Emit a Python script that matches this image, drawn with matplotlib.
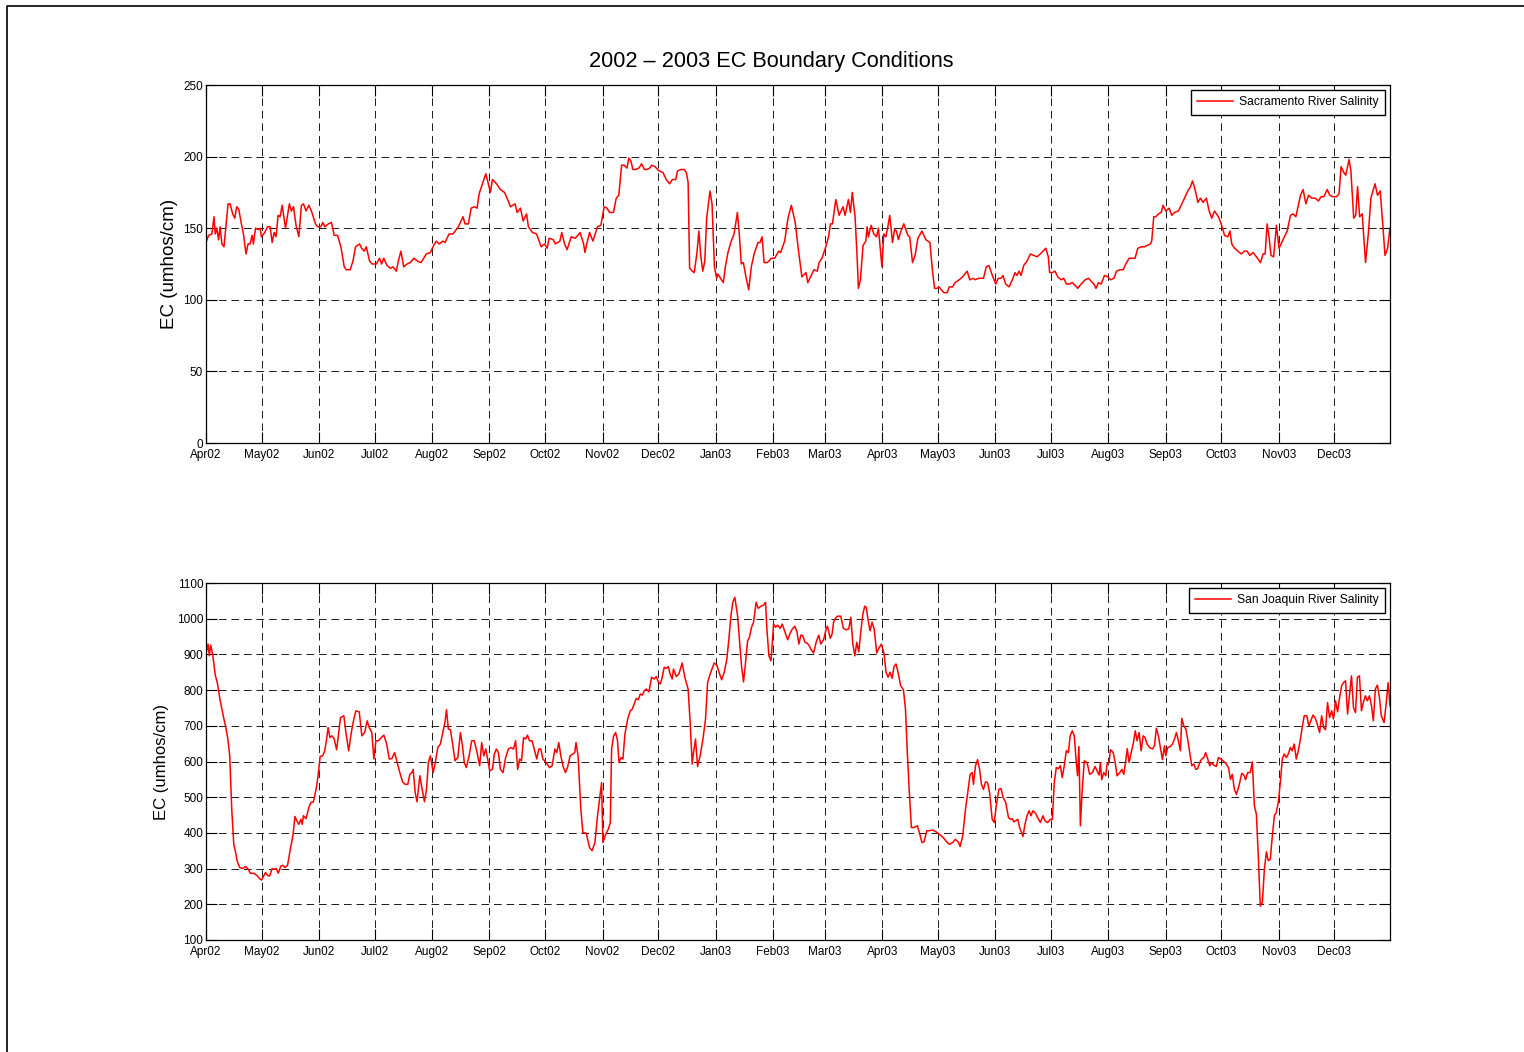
import pandas as pd
import matplotlib
matplotlib.use('Agg')
import matplotlib.pyplot as plt
import matplotlib.dates as mdates
from matplotlib.lines import Line2D

plt.rcParams['font.family'] = ['Liberation Sans', 'DejaVu Sans']
plt.rcParams['lines.scale_dashes'] = False

start = pd.Timestamp('2002-04-01')
end = pd.Timestamp('2003-12-31')

# Sacramento River EC, days after 1 Apr 2002
sac_day = [0, 1.4, 3.2, 4.3, 5, 5.8, 6.8, 7.6, 8.6, 9.7, 11.9, 13, 14.4, 15.5, 16.6, 17.7, 19.1, 20.2, 21.6, 22.7,
           23.8, 24.9, 25.6, 26.7, 28.1, 29.2, 29.9, 31.7, 33.2, 34.6, 35.7, 36.8, 37.8, 38.9, 40, 41.1, 42.9, 45,
           46.1, 47.2, 48.6, 50.1, 51.5, 52.6, 54, 55.5, 56.9, 59.1, 60.2, 62, 63, 64.1, 66, 67.7, 69.2, 71, 72.8,
           74.6, 75.7, 77.8, 79.3, 80.7, 82.9, 84, 85.4, 86.5, 88.3, 89.7, 91.9, 93.7, 94.8, 95.9, 97.7, 99.5, 100.9,
           102.7, 103.8, 105.2, 106.7, 108.5, 110.3, 112.1, 114.2, 116, 117.5, 118.9, 121.1, 122.9, 124.3, 125.8,
           127.9, 129, 131.2, 133.3, 136.2, 138.7, 139.8, 141.6, 143.1, 144.9, 146.3, 147.4, 149.2, 151, 152, 153.5,
           154.6, 156.8, 158.9, 161.1, 162.5, 164.3, 166.8, 167.9, 169.7, 171.2, 173, 174, 176.2, 178.4, 180.9,
           182.7, 184.1, 185.2, 187.4, 188.5, 191, 192, 193.5, 194.9, 197.1, 199.3,
           201.9, 203.8, 204.5, 205.5, 207, 208.8, 211.3, 213.1, 214.9, 216.4, 217.8, 219.9, 221.4, 222.8, 224.3,
           225.7, 227.2, 228.2, 229.3, 230.4, 231.9, 233.7, 235.1, 236.6, 238, 239.5, 240.5, 242.3, 244.5, 246.6,
           248.4, 250.2, 251.7, 253.5, 254.5, 256.3, 258.1, 259.2, 260.2, 261, 262.4, 263.5, 264.9, 266, 267,
           268.1, 269.2, 270.2, 272, 273.1, 274.4, 275.6, 276.3, 277.7, 279.2, 280.3, 281.7, 283.2, 285, 286.8,
           287.8, 288.9, 290, 291.4, 292.9, 294.3, 295.8, 297.9, 299, 300.1, 301.2, 303, 305.1, 306.9, 309.1,
           310.1, 312.3, 314.1, 315.9, 318, 319.8, 321.6, 323.8, 324.8, 327, 328.1, 329.9, 330.9, 332.4, 334.5,
           336, 337, 338.1, 339.9, 341.7, 343.8, 344.9, 346.7, 347.8, 348.8, 350.3, 351.4, 352.1, 353.2, 354.6,
           356.1, 356.8, 357.5, 359, 360.4, 361.9, 362.9, 364.8, 365.8, 366.9, 368, 369, 370.5, 371.6, 372.6,
           373.7, 374.8, 376.6, 378.8, 379.8, 381.3, 382.7, 384.2, 386.4, 388.5, 390.7, 392.1, 393.2, 394.6,
           395.7, 396.8, 398.2, 400, 401.1, 402.9, 404.3, 406.5, 408.3, 410.8, 412.2, 414, 415.1, 416.9,
           419.6, 421.1, 422.5, 424.4, 426.2, 427.6, 429.1, 430.1, 431.6, 433.4, 435.2, 436.6, 437.7, 438.8, 439.9,
           441.3, 443.1, 444.9, 446.7, 448.5, 450.3, 451.7, 453.2, 454.6, 455.3, 456.8, 458.2, 459.7, 461.5, 462.9,
           464.4, 465.8, 467.6, 469.1, 470.5, 472.3, 474.5, 476.3, 477.7, 479.2, 480.3, 481.7, 483.1, 484.9, 486.7,
           488.2, 490, 491.4, 493.2, 495, 496.4, 498.2, 500, 501.4, 502.9, 504.7, 506.5, 507.9, 509.7, 510.4, 511.5,
           512.6, 514, 515.5, 516.5, 518, 519.8, 521.2, 522.7, 524.8, 526.3, 528.1, 529.9, 531.3, 532.4, 533.8,
           535.3, 536.7, 538.1, 539.9, 541.4, 542.8, 544.3, 546.4, 547.9, 549.7, 551.5, 552.6, 553.6, 555.1, 556.9,
           558.7, 560.5, 561.9, 563.3, 565.1, 566.9, 569.1, 570.5, 571.6, 572.7, 573.7, 574.8, 576.2, 577.7, 579.1,
           580.6, 582, 583.5, 585.3, 586.7, 588.2, 589.2, 590.7, 592.1, 593.6, 595, 596.8, 598.6, 600.4, 601.8,
           603.3, 605.1, 606.5, 608.3, 610.1, 611.5, 612.6, 614, 615.1, 616.9, 617.9, 619.4, 620.5, 621.5, 622.6,
           624, 625.8, 627.3, 628.7, 630.9, 632.3, 633.7, 635.2, 636.3, 637.7, 639]
sac_ec = [140, 145, 146, 158, 146, 150, 142, 151, 139, 137, 167, 167, 160, 157, 165, 163, 153, 146, 132, 139,
          139, 145, 139, 150, 149, 150, 144, 147, 151, 151, 140, 147, 144, 159, 158, 166, 150, 167,
          162, 165, 152, 144, 166, 167, 162, 166, 162, 153, 151, 151, 154, 151, 153, 154, 145, 145, 137,
          123, 121, 121, 127, 137, 139, 136, 134, 137, 127, 125, 125, 129, 125, 129, 124, 122, 123,
          120, 127, 134, 123, 125, 126, 129, 127, 126, 129, 132, 133, 138, 141, 139,
          141, 140, 146, 146, 151, 158, 153, 153, 164, 165, 164, 174, 181, 188, 183, 175,
          184, 181, 177, 175, 171, 165, 167, 161, 164, 155, 160, 151, 147, 146, 137,
          139, 136, 143, 142, 139, 141, 147, 139, 135, 144, 143,
          147, 139, 133, 139, 147, 141, 151, 152, 165, 164, 161, 161, 171, 173, 194,
          194, 192, 199, 197, 191, 191, 192, 195, 191, 191, 192, 194, 193, 190, 189,
          184, 181, 184, 184, 190, 191, 191, 189, 182, 122, 120, 119, 132, 148, 131,
          120, 127, 157, 176, 167, 123, 115, 118, 115, 112, 123, 133, 140, 146, 161,
          146, 125, 126, 116, 107, 123, 132, 140, 140, 144, 126, 126, 129, 129, 134,
          133, 141, 157, 166, 154, 134, 116, 119, 112, 118, 121, 120, 126, 129, 137,
          144, 153, 153, 170, 159, 165, 159, 170, 161, 175, 158, 130, 108, 114, 138,
          141, 151, 144, 152, 146, 144, 150, 123, 146, 144, 151, 159, 140, 149, 148,
          142, 147, 153, 145, 144, 126, 131, 143, 148, 142, 140, 120, 108, 108,
          109, 107, 105, 105, 109, 109, 112, 114, 116, 120, 114, 115, 114, 115,
          115, 123, 124, 117, 111, 115, 115, 117, 111, 109, 114, 119, 117, 120, 117,
          124, 127, 132, 131, 130, 132, 134, 136, 130, 119, 119, 120, 116, 114, 115,
          111, 111, 112, 110, 108, 111, 114, 115, 113, 111, 108, 112, 111, 117, 116,
          114, 115, 120, 121, 121, 125, 129, 129, 129, 136, 137, 137, 138, 139, 141, 158,
          158, 160, 161, 166, 162, 164, 159, 161, 162, 166, 171, 176, 179, 183, 177,
          168, 171, 168, 171, 162, 157, 162, 158, 153, 145, 144, 148, 139, 136, 134,
          132, 134, 134, 131, 133, 130, 126, 132, 132, 153, 144, 131, 130, 152, 136,
          140, 144, 148, 159, 160, 158, 164, 173, 177, 167, 173, 171, 171, 169, 172,
          172, 177, 173, 172, 172, 174, 193, 189, 187, 198, 190, 157, 159, 179, 158,
          160, 126, 146, 171, 181, 173, 176, 151, 131, 136, 150]

# San Joaquin River EC, days after 1 Apr 2002
sjr_day = [0.4, 1.1, 1.8, 2.5, 3.2, 3.9, 5, 6.1, 7.5, 9.3, 10.7, 11.8, 12.8, 13.9, 15, 16, 16.8, 18.2, 19.6, 21.4,
           22.8, 23.9, 25.7, 27.5, 28.9, 30, 31.1, 32.1, 33.2, 34.3, 35.7, 36.8, 37.9, 39, 40.4, 41.5, 42.6, 44,
           45.5, 46.9, 48, 49, 50.1, 51.2, 51.9, 52.6, 54, 55.5, 56.6, 58, 59.4, 60.5, 61.6, 63, 64.1, 65.1, 65.9,
           66.9, 68, 69.1, 70.5, 71.6, 72.6, 74.4, 75.5, 77, 78.4, 79.8, 80.9, 82.7, 84.1, 85.6, 87, 88.1, 89.5,
           90.6, 91.7, 93.1, 94.6, 96, 97.5, 98.9, 100.3, 101.8, 103.2, 104.6, 106.1, 107.5, 108.9, 110, 111.1,
           111.8, 112.9, 113.9, 115.4, 116.5, 117.9, 119, 120, 121.1, 122.6, 123.6, 125.1, 126.5, 128, 129, 129.8,
           130.8, 131.9, 133, 134.4, 135.9, 137.3, 138.4, 139.4, 140.5, 142, 143.4, 144.8, 146.3, 147.7, 148.8,
           149.9, 151, 152, 153.1, 154.6, 155.6, 156.7, 157.8, 158.9, 160.3, 161.7, 163.2, 164.6, 166, 167.1,
           168.2, 169.3, 170.3, 171.4, 172.5, 173.5, 174.6, 176, 177.1, 178.5, 179.6, 180.7, 181.8, 183.6, 185.4,
           186.8, 188.3, 189.3, 190.4, 191.5, 192.6, 194, 195.1, 196.5, 198, 199, 199.7, 200.8,
           202.3, 203.4, 205.2, 207, 208.4, 209.9, 211.3, 212.8, 213.5, 214.2, 215.7, 217.1, 218.2, 218.9, 220,
           221.1, 222.1, 222.9, 224, 225, 226.1, 227.6, 229, 230.1, 231.1, 232.2, 233.3, 234.4, 235.5, 236.5,
           237.6, 239, 240.5, 241.9, 243, 244.1, 245.2, 246.2, 247.3, 248.4, 249.5, 250.5, 251.6, 252.3, 253.8,
           255.2, 257, 258.4, 260.2, 261.3, 262.4, 263.1, 264.2, 265.3, 266.7, 268.2, 269.6, 270.7, 272.1, 273.2,
           274.3, 275.7, 277.2, 278.3, 279.7, 281.1, 282.2, 283.3, 284.3, 285.4, 286.9, 288, 289, 290.1, 291.2,
           292.3, 293.3, 294.4, 295.5, 296.9, 298, 299.5, 300.9, 302, 302.7, 303.8, 304.9, 305.6, 306.3, 307.4,
           308.5, 309.9, 311, 312.4, 313.9, 315.3, 316.4, 317.8, 318.9, 320, 321, 322.1, 323.2, 324.3, 325.4,
           326.4, 327.9, 329.3, 330.7, 331.8, 333.3, 334.7, 335.4, 336.9, 337.9, 338.7, 339.7, 340.8, 342.6, 344,
           345.5, 346.9, 348, 349.1, 350.2, 351.2, 352.3, 353.4, 354.5, 355.5, 356.3, 357.4, 358.4, 359.5, 360.6,
           362, 363.1, 364.5, 366, 367, 368.1, 369.2, 370.3, 371.3, 372.4, 373.5, 374.9, 376.4, 377.5, 378.5,
           379.6, 380.7, 382.1, 383.9, 385, 386.4, 387.5, 389, 390.4, 392.2, 394, 395.8, 397.9, 399.7, 401.2,
           403, 404.4, 405.9, 407, 408.4, 409.9, 411.3, 412.4, 413.5, 414.2, 415.3, 416.4, 417.5, 418.5, 419.6,
           420.7, 421.8, 422.9, 424.3, 425.4, 426.5, 427.9,
           429.1, 430.2, 431.6, 433.1, 434.1, 435.2, 435.9, 437, 438.1, 439.1, 440.2, 440.9, 442, 443.1, 444.2,
           445.2, 446.3, 447.7, 448.8, 450.3, 451.7, 452.8, 454.2, 455.7, 456.8, 457.8, 458.9, 460, 461.1, 462.1,
           463.2, 464.3, 465.4, 466.4, 467.5, 468.6, 469.7, 470.4, 471.1, 471.9, 472.9, 474, 475.5, 476.9, 478.4,
           479.8, 480.9, 482, 482.7, 483.4, 484.5, 485.6, 486.3, 487.4, 488.1, 489.6, 490.7, 491.7, 493.2, 494.3,
           495.3, 496.4, 497.2, 498.2, 499.3, 500.4, 501.5, 502.5, 503.6, 504.7, 505.8, 506.8, 507.9, 509.3, 510.8,
           511.9, 512.9, 514, 515.1, 516.2, 517.3, 518, 519, 520.5, 521.6, 522.7, 523.7, 524.8, 525.9, 526.6,
           527.7, 528.8, 529.8, 530.9, 532, 533.1, 534.2, 535.2, 536.3, 537.4, 538.5, 539.5, 540.6, 541.7, 542.8,
           543.8, 545.3, 546.4, 547.4, 548.9, 550.3, 551.8, 552.9, 553.9, 555, 556.1, 557.5, 559, 560.1, 561.1,
           562.2, 563.6, 564.7, 565.8, 566.9, 568, 569, 570.1, 571.2, 572.3, 573.3, 574.4, 575.5, 576.6, 577.6,
           578.7, 579.8, 580.9, 581.9, 583, 584.1, 585.2, 586.2, 587.3, 588.4, 589.5, 590.5, 591.6, 592.7, 594.1,
           595.2, 596.3, 597.4, 598.5, 599.5, 601, 602.1, 603.2, 604.2, 605.3, 606.4, 607.5, 608.5, 609.6, 610.7,
           611.8, 612.9, 613.9, 615, 616.1, 617.1, 618.2, 619.3, 620.4, 621.4, 622.5, 623.6, 624.7, 625.7, 626.8,
           627.9, 629, 630, 631.1, 632.2, 633.3, 634.3, 635.8, 636.9, 638, 639]
sjr_ec = [910, 929, 896, 926, 910, 887, 842, 821, 775, 728, 695, 663, 616, 466, 368, 345, 321, 303, 300, 306,
          298, 287, 287, 281, 272, 268, 279, 289, 281, 279, 300, 298, 300, 287, 307, 309, 303, 309,
          354, 392, 446, 434, 424, 438, 424, 448, 440, 471, 485, 487, 522, 560, 614, 616, 630, 663, 695,
          667, 672, 664, 633, 681, 723, 728, 681, 630, 681, 719, 742, 739, 672, 681, 714, 695, 681,
          607, 658, 658, 667, 674, 649, 607, 608, 625, 597, 569, 543, 536, 536, 564, 569,
          578, 513, 487, 560, 527, 487, 522, 597, 616, 569, 593, 639, 649, 686, 711, 745,
          691, 689, 653, 602, 611, 681, 644, 597, 583, 616, 658, 658, 625, 588, 653,
          616, 635, 607, 574, 578, 621, 635, 625, 578, 569, 611, 635, 639, 635, 658,
          578, 607, 602, 667, 663, 674, 658, 658, 635, 607, 635, 635, 607, 597, 583,
          588, 635, 625, 653, 616, 588, 569, 583, 616, 621, 625, 653, 616,
          466, 401, 399, 359, 350, 373, 448, 513, 541, 373, 396, 410, 429, 635, 672,
          681, 658, 597, 611, 607, 677, 719, 742, 747, 761, 777, 773, 789, 786, 798,
          803, 795, 836, 831, 838, 823, 817, 836, 864, 861, 866, 845, 831, 859, 838,
          845, 876, 836, 803, 709, 593, 625, 663, 586, 616, 663, 719, 821, 845, 861,
          876, 870, 845, 829, 850, 887, 943, 1008, 1046, 1060, 1008, 934, 868, 823, 878,
          938, 948, 976, 990, 1046, 1029, 1035, 1038, 1046, 971, 896, 882, 929, 985, 976,
          982, 973, 985, 964, 941, 960, 971, 979, 964, 929, 954, 952, 934, 932, 926,
          915, 904, 934, 954, 929, 941, 971, 979, 945, 957, 990, 1001, 1007, 1007, 973,
          969, 971, 1004, 929, 896, 934, 907, 964, 1013, 1035, 1032, 994, 966, 990, 971,
          904, 917, 929, 901, 850, 836, 850, 833, 866, 873, 850, 812, 801, 747, 625,
          513, 415, 415, 420, 401, 373, 375, 406, 406, 408, 403, 396, 387, 375, 368,
          373, 382, 375, 362, 392, 466, 522, 564, 569, 536, 588, 605, 578, 536, 522,
          543, 541, 513, 438, 429, 476, 522,
          524, 499, 485, 443, 438, 440, 431, 434, 438, 415, 401, 390, 424, 448, 462,
          448, 462, 455, 443, 429, 448, 434, 429, 438, 438, 541, 583, 580, 588, 555,
          588, 630, 625, 672, 686, 672, 597, 560, 642, 420, 522, 602, 597, 564, 569,
          586, 574, 562, 597, 549, 569, 560, 593, 597, 633, 625, 597, 560, 569, 578,
          564, 602, 636, 597, 625, 649, 686, 658, 681, 630, 672, 667, 649, 639, 635,
          644, 693, 672, 639, 605, 644, 616, 639, 642, 649, 663, 681, 658, 630, 721,
          700, 691, 663, 625, 588, 593, 578, 580, 597, 607, 611, 625, 608, 588, 597,
          590, 586, 611, 608, 602, 595, 583, 550, 564, 522, 508, 532, 567, 562, 549,
          569, 569, 599, 476, 452, 326, 195, 205, 298, 347, 322, 326, 392, 448, 457,
          485, 541, 608, 621, 611, 621, 639, 630, 649, 607, 630, 658, 695, 728, 728,
          700, 714, 730, 723, 709, 681, 728, 695, 689, 765, 723, 742, 719, 770, 739,
          779, 812, 821, 826, 733, 784, 840, 751, 737, 836, 840, 742, 767, 784, 770,
          784, 756, 714, 803, 814, 779, 728, 709, 761, 821, 756]

sac_dates = start + pd.to_timedelta(sac_day, unit='D')
sjr_dates = start + pd.to_timedelta(sjr_day, unit='D')

fig = plt.figure(figsize=(15.24, 10.52), dpi=100)

# border around the page
fig.add_artist(Line2D([7 / 1524, 7 / 1524, 1.0], [0.0, 1 - 6 / 1052, 1 - 6 / 1052],
                      transform=fig.transFigure, color='black', lw=1.2))

fig.text(0.506, 1 - 62 / 1052, '2002 \u2013 2003 EC Boundary Conditions', ha='center', va='center',
         fontsize=15.7)

ax1 = fig.add_axes([206 / 1524, 1 - 443 / 1052, 1184 / 1524, 358 / 1052])
ax2 = fig.add_axes([206 / 1524, 1 - 940 / 1052, 1184 / 1524, 357 / 1052])


def style(ax, ylim, ystep, label, labsize, labx):
    ax.set_xlim(start, end)
    ax.set_ylim(*ylim)
    ax.set_yticks(range(ylim[0], ylim[1] + 1, ystep))
    ax.xaxis.set_major_locator(mdates.MonthLocator())
    ax.xaxis.set_major_formatter(mdates.DateFormatter('%b%y'))
    ax.grid(True, color='0.1', linestyle=(0, (5.5, 3.5)), linewidth=0.7)
    ax.tick_params(direction='in', length=8, width=0.8, top=True, right=True, labelsize=8.5)
    ax.tick_params(axis='y', pad=2)
    ax.tick_params(axis='x', pad=4)
    for s in ax.spines.values():
        s.set_linewidth(0.9)
    ax.set_ylabel(label, fontsize=labsize)
    ax.yaxis.set_label_coords(labx, 0.5)
    ax.legend(loc='upper right', fontsize=8.7, fancybox=False, edgecolor='black', framealpha=1,
              handlelength=3.0, handletextpad=0.45, borderaxespad=0.45, borderpad=0.5)


ax1.plot(sac_dates, sac_ec, color='red', lw=1.1, label='Sacramento River Salinity')
style(ax1, (0, 250), 50, 'EC (umhos/cm)', 13.5, -0.024)

ax2.plot(sjr_dates, sjr_ec, color='red', lw=1.1, label='San Joaquin River Salinity')
style(ax2, (100, 1100), 100, 'EC (umhos/cm)', 12, -0.031)

fig.savefig('out.png', dpi=100)
